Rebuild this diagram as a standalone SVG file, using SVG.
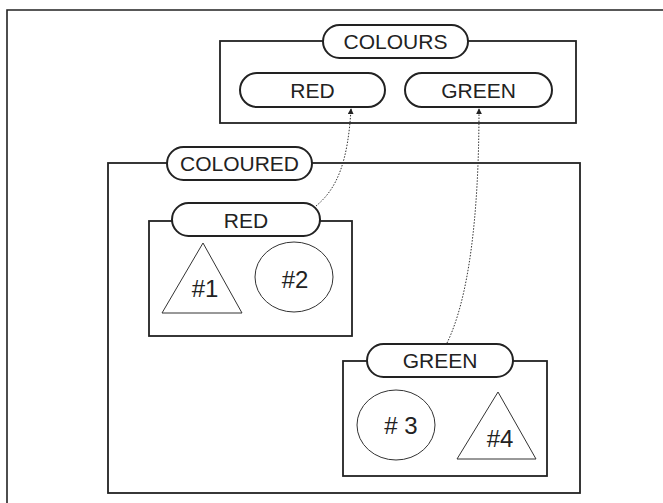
<svg xmlns="http://www.w3.org/2000/svg" width="663" height="503" viewBox="0 0 663 503">
<defs>
<style>
.frame{fill:none;stroke:#222;stroke-width:1.6}
.box{fill:none;stroke:#222;stroke-width:1.8}
.pill{fill:#fff;stroke:#222;stroke-width:2}
.shape{fill:none;stroke:#333;stroke-width:1}
.lbl{font-family:"Liberation Sans",Arial,sans-serif;font-size:21px;fill:#222;text-anchor:middle}
.num{font-family:"Liberation Sans",Arial,sans-serif;font-size:24px;fill:#222;text-anchor:middle}
.conn{fill:none;stroke:#333;stroke-width:1;stroke-dasharray:1.5 1.5}
</style>
<marker id="arr" viewBox="0 0 8 8" refX="7" refY="4" markerWidth="6" markerHeight="6" orient="auto" markerUnits="userSpaceOnUse">
<path d="M0,0 L8,4 L0,8 z" fill="#222"/>
</marker>
</defs>
<rect width="663" height="503" fill="#fff"/>
<path class="frame" d="M7,503 L7,10 L663,10"/>

<g id="colours">
<rect class="box" x="220" y="41" width="356" height="82"/>
<rect class="pill" x="323" y="25" width="145" height="33" rx="16.5"/>
<text class="lbl" x="395.5" y="49">COLOURS</text>
</g>
<g id="colours-red">
<rect class="pill" x="240" y="73" width="145" height="34" rx="17"/>
<text class="lbl" x="312.5" y="98">RED</text>
</g>
<g id="colours-green">
<rect class="pill" x="405" y="73" width="147" height="34" rx="17"/>
<text class="lbl" x="478.5" y="98">GREEN</text>
</g>

<g id="coloured">
<rect class="box" x="108" y="163" width="472" height="330"/>
<rect class="pill" x="167" y="147" width="145" height="33" rx="16.5"/>
<text class="lbl" x="239.5" y="171">COLOURED</text>
</g>

<g id="red">
<rect class="box" x="149" y="221" width="203" height="115"/>
<rect class="pill" x="172" y="203" width="148" height="33" rx="16.5"/>
<text class="lbl" x="246" y="228">RED</text>
</g>
<g id="shape1">
<polygon class="shape" points="203,243 162,313 242,313"/>
<text class="num" x="205" y="297">#1</text>
</g>
<g id="shape2">
<ellipse class="shape" cx="294" cy="277" rx="39" ry="35"/>
<text class="num" x="295" y="288">#2</text>
</g>

<g id="green">
<rect class="box" x="343" y="361" width="204" height="115"/>
<rect class="pill" x="367" y="344" width="146" height="33" rx="16.5"/>
<text class="lbl" x="440" y="368">GREEN</text>
</g>
<g id="shape3">
<ellipse class="shape" cx="396" cy="425" rx="39" ry="35"/>
<text class="num" x="401" y="434"># 3</text>
</g>
<g id="shape4">
<polygon class="shape" points="498,392 457,459 536,459"/>
<text class="num" x="500" y="447">#4</text>
</g>

<g id="connectors">
<path class="conn" d="M316,206 C338,188 348,160 351,109" marker-end="url(#arr)"/>
<path class="conn" d="M447,343 C468,300 479,220 479,109" marker-end="url(#arr)"/>
</g>
</svg>
